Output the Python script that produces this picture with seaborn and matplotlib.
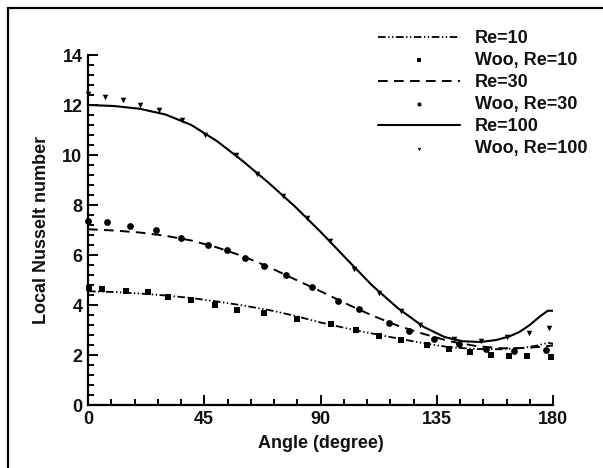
import numpy as np
import pandas as pd
import matplotlib
matplotlib.use("Agg")
import matplotlib.pyplot as plt
from matplotlib.lines import Line2D
from matplotlib.ticker import MultipleLocator
import seaborn as sns

# ---- data ----
ang_re10 = [0, 10, 20, 30, 40, 50, 60, 70, 80, 90, 100, 110, 120, 130, 140, 150, 160, 168, 174, 178, 180]
nu_re10 = [4.55, 4.52, 4.46, 4.38, 4.28, 4.14, 3.98, 3.80, 3.57, 3.30, 3.07, 2.86, 2.66, 2.47, 2.31, 2.24, 2.23, 2.28, 2.38, 2.49, 2.45]

ang_re30 = [0, 10, 20, 30, 40, 50, 60, 70, 80, 90, 100, 110, 120, 130, 140, 150, 160, 170, 180]
nu_re30 = [7.03, 6.98, 6.90, 6.77, 6.58, 6.30, 5.95, 5.52, 5.03, 4.55, 4.05, 3.58, 3.17, 2.84, 2.55, 2.36, 2.27, 2.28, 2.38]

ang_re100 = [0, 10, 20, 30, 40, 50, 60, 70, 80, 90, 100, 110, 120, 130, 138, 145, 152, 158, 163, 167, 171, 175, 178, 180]
nu_re100 = [12.00, 11.96, 11.85, 11.62, 11.20, 10.55, 9.75, 8.88, 7.95, 6.93, 5.85, 4.78, 3.87, 3.12, 2.72, 2.55, 2.52, 2.60, 2.74, 2.92, 3.20, 3.55, 3.77, 3.77]

woo10_ang = [0.3, 5.5, 14.6, 23.1, 30.8, 40.0, 49.0, 57.5, 68.2, 81.0, 94.2, 103.6, 112.5, 121.1, 131.4, 139.8, 148.0, 156.1, 163.1, 170.1, 179.1]
woo10_nu = [4.70, 4.66, 4.58, 4.53, 4.34, 4.22, 4.02, 3.82, 3.70, 3.43, 3.23, 2.99, 2.78, 2.62, 2.39, 2.25, 2.14, 2.02, 1.98, 1.98, 1.93]

woo30_ang = [0, 7.4, 16.2, 26.4, 36.0, 46.4, 53.9, 60.9, 68.2, 76.7, 86.7, 96.7, 105.0, 116.6, 124.1, 133.8, 143.7, 154.0, 164.8, 177.4]
woo30_nu = [7.38, 7.33, 7.18, 7.00, 6.70, 6.40, 6.20, 5.87, 5.57, 5.20, 4.73, 4.18, 3.83, 3.30, 2.98, 2.65, 2.45, 2.26, 2.18, 2.21]

woo100_ang = [0, 6.6, 13.4, 20.1, 27.5, 36.3, 45.4, 57.2, 65.5, 75.6, 84.7, 93.6, 102.9, 112.8, 121.1, 128.4, 141.5, 152.3, 162.2, 170.7, 178.5]
woo100_nu = [12.43, 12.33, 12.19, 12.00, 11.80, 11.39, 10.82, 10.01, 9.26, 8.37, 7.48, 6.56, 5.45, 4.48, 3.77, 3.20, 2.64, 2.57, 2.71, 2.89, 3.07]

labels = ["Re=10", "Woo, Re=10", "Re=30", "Woo, Re=30", "Re=100", "Woo, Re=100"]
x_ticks = [0, 45, 90, 135, 180]
y_ticks = [0, 2, 4, 6, 8, 10, 12, 14]

# ---- style ----
sns.set_theme(style="white")
plt.rcParams["font.family"] = ["Liberation Sans", "DejaVu Sans"]
plt.rcParams["font.weight"] = "bold"
plt.rcParams["lines.scale_dashes"] = False

fig = plt.figure(figsize=(6.03, 4.68), dpi=100)
ax = fig.add_axes([88 / 603, 1 - 405 / 468, (553 - 88) / 603, (405 - 55) / 468])

k = "black"
sns.lineplot(x=ang_re10, y=nu_re10, ax=ax, color=k, lw=1.3, sort=False,
             linestyle=(0, (5.5, 1.8, 1.0, 1.8, 1.0, 1.8)), label=labels[0])
sns.scatterplot(x=woo10_ang, y=woo10_nu, ax=ax, color=k, marker="s", s=16,
                linewidth=0, label=labels[1], zorder=3, clip_on=False)
sns.lineplot(x=ang_re30, y=nu_re30, ax=ax, color=k, lw=1.4, sort=False,
             linestyle=(0, (7.0, 4.5)), label=labels[2])
sns.scatterplot(x=woo30_ang, y=woo30_nu, ax=ax, color=k, marker="o", s=24,
                linewidth=0, label=labels[3], zorder=3, clip_on=False)
sns.lineplot(x=ang_re100, y=nu_re100, ax=ax, color=k, lw=1.5, sort=False,
             linestyle="-", label=labels[4])
sns.scatterplot(x=woo100_ang, y=woo100_nu, ax=ax, color=k, marker="v", s=16,
                linewidth=0, label=labels[5], zorder=3, clip_on=False)

ax.set_xlim(0, 180)
ax.set_ylim(0, 14)
ax.set_xticks(x_ticks)
ax.set_yticks(y_ticks)
ax.xaxis.set_minor_locator(MultipleLocator(9))
ax.yaxis.set_minor_locator(MultipleLocator(0.4))
ax.tick_params(which="both", direction="in", color=k, width=1.4,
               bottom=True, left=True, top=False, right=False)
ax.tick_params(which="major", length=7, labelsize=13, pad=4, labelcolor="#111111")
ax.tick_params(which="minor", length=4)
for lab in ax.get_xticklabels() + ax.get_yticklabels():
    lab.set_fontweight("bold")

for side in ["top", "right"]:
    ax.spines[side].set_visible(False)
for side in ["left", "bottom"]:
    ax.spines[side].set_visible(True)
    ax.spines[side].set_color(k)
    ax.spines[side].set_linewidth(1.6)

ax.set_xlabel("Angle (degree)", fontsize=13, fontweight="bold", color="#111111", labelpad=5)
ax.set_ylabel("Local Nusselt number", fontsize=13, fontweight="bold", color="#111111", labelpad=9)

leg = ax.legend(loc="upper left", bbox_to_anchor=(378 / 603, 1 - 30 / 468),
                bbox_transform=fig.transFigure, frameon=False, borderpad=0,
                borderaxespad=0, handlelength=4.55, handletextpad=0.8,
                labelspacing=0.28, markerscale=0.6, fontsize=13)
for t in leg.get_texts():
    t.set_fontweight("bold")
    t.set_color("#111111")

# outer frame (top and left edges)
fig.add_artist(Line2D([8 / 603, 8 / 603], [0, 1 - 8 / 468], transform=fig.transFigure, color=k, lw=1.6))
fig.add_artist(Line2D([8 / 603, 1], [1 - 8 / 468, 1 - 8 / 468], transform=fig.transFigure, color=k, lw=1.6))

fig.savefig("out.png", dpi=100)
